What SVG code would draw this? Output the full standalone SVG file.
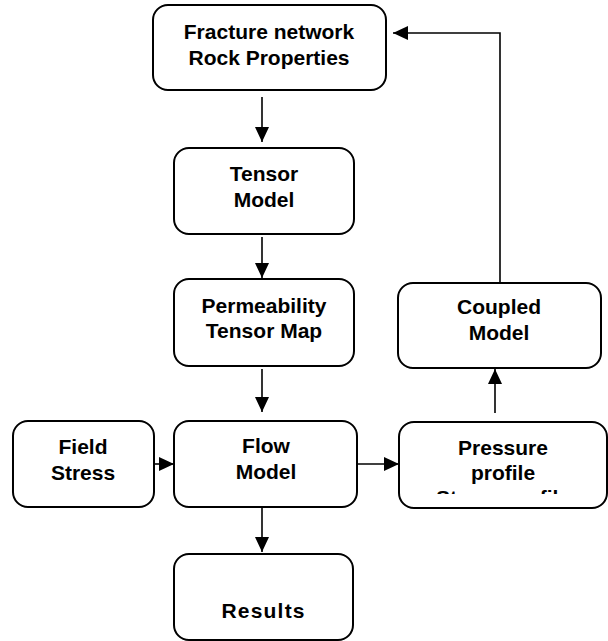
<svg xmlns="http://www.w3.org/2000/svg" width="608" height="641" viewBox="0 0 608 641">
<style>
.box{fill:#fff;stroke:#000;stroke-width:2}
.t{font-family:"Liberation Sans",Arial,sans-serif;font-weight:bold;font-size:21px;text-anchor:middle;fill:#000}
.c{fill:none;stroke:#000;stroke-width:1.6}
</style>
<defs>
<marker id="ah" markerUnits="userSpaceOnUse" markerWidth="16" markerHeight="14" refX="15" refY="7" orient="auto">
<path d="M0,0 L15,7 L0,14 z" fill="#000"/>
</marker>
<clipPath id="pclip"><rect x="399" y="422" width="208" height="72"/></clipPath>
</defs>
<rect width="608" height="641" fill="#fff"/>
<g id="connectors">
<line class="c" x1="262" y1="97" x2="262" y2="142" marker-end="url(#ah)"/>
<line class="c" x1="262" y1="237" x2="262" y2="278" marker-end="url(#ah)"/>
<line class="c" x1="262" y1="369" x2="262" y2="412" marker-end="url(#ah)"/>
<line class="c" x1="262" y1="507" x2="262" y2="552" marker-end="url(#ah)"/>
<line class="c" x1="153" y1="464" x2="174" y2="464" marker-end="url(#ah)"/>
<line class="c" x1="357" y1="464" x2="399" y2="464" marker-end="url(#ah)"/>
<line class="c" x1="495" y1="413" x2="495" y2="369" marker-end="url(#ah)"/>
<polyline class="c" points="500,283 500,33 393,33" marker-end="url(#ah)"/>
</g>
<g id="fracture">
<rect class="box" x="153" y="5" width="233" height="85" rx="15"/>
<text class="t" x="269" y="39">Fracture network</text>
<text class="t" x="269" y="65">Rock Properties</text>
</g>
<g id="tensor">
<rect class="box" x="174" y="148" width="180" height="86" rx="15"/>
<text class="t" x="264" y="181">Tensor</text>
<text class="t" x="264" y="207">Model</text>
</g>
<g id="permeability">
<rect class="box" x="174" y="279" width="180" height="87" rx="15"/>
<text class="t" x="264" y="313">Permeability</text>
<text class="t" x="264" y="338">Tensor Map</text>
</g>
<g id="field">
<rect class="box" x="13" y="421" width="141" height="86" rx="15"/>
<text class="t" x="83" y="454">Field</text>
<text class="t" x="83" y="480">Stress</text>
</g>
<g id="flow">
<rect class="box" x="174" y="421" width="183" height="86" rx="15"/>
<text class="t" x="266" y="453">Flow</text>
<text class="t" x="266" y="479">Model</text>
</g>
<g id="pressure">
<rect class="box" x="399" y="422" width="208" height="86" rx="15"/>
<g clip-path="url(#pclip)">
<text class="t" x="503" y="455">Pressure</text>
<text class="t" x="503" y="480">profile</text>
<text class="t" x="503" y="505">Stress profile</text>
</g>
</g>
<g id="coupled">
<rect class="box" x="398" y="283" width="203" height="85" rx="15"/>
<text class="t" x="499" y="314">Coupled</text>
<text class="t" x="499" y="340">Model</text>
</g>
<g id="results">
<rect class="box" x="174" y="554" width="179" height="86" rx="15"/>
<text class="t" x="263.6" y="618" letter-spacing="1.2">Results</text>
</g>
</svg>
